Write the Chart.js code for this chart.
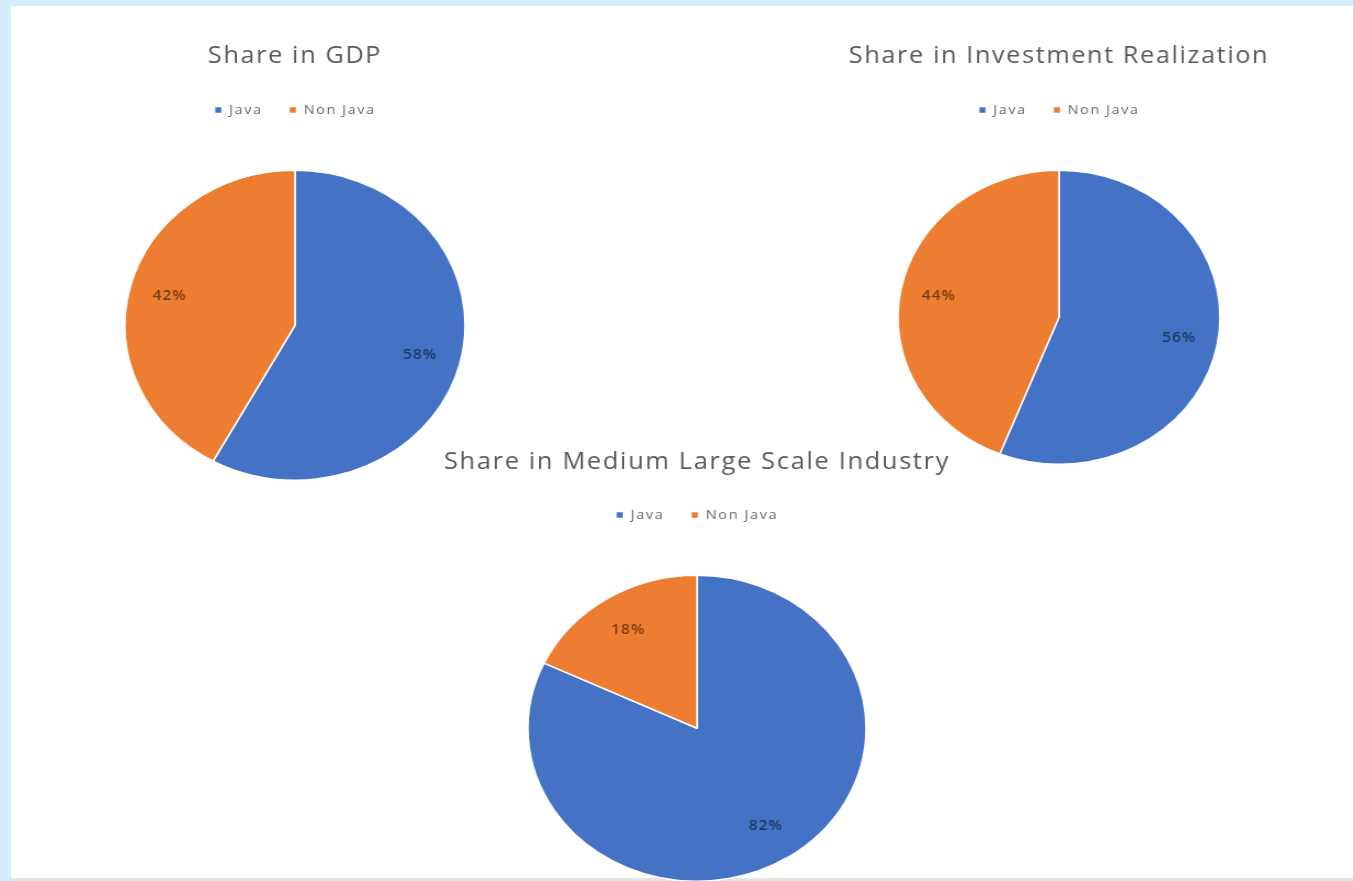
<!DOCTYPE html>
<html>
<head>
<meta charset="utf-8">
<script src="https://cdn.jsdelivr.net/npm/chart.js@4.4.1/dist/chart.umd.min.js"></script>
<style>
    html, body {
        margin: 0;
        padding: 0;
        width: 1353px;
        height: 881px;
        overflow: hidden;
        background: #d5ecfb;
    }
    #panel {
        position: absolute;
        left: 11px;
        top: 6px;
        width: 1342px;
        height: 872px;
        background: #ffffff;
        border-bottom: 3px solid #e4e4e4;
    }
    .pie-box {
        position: absolute;
    }
</style>
</head>
<body>
<div id="panel"></div>
<div class="pie-box" id="box-gdp"><canvas id="gdp"></canvas></div>
<div class="pie-box" id="box-invest"><canvas id="invest"></canvas></div>
<div class="pie-box" id="box-industry"><canvas id="industry"></canvas></div>

<script>
const categories = ['Java', 'Non Java'];
const gdpShare = [58, 42];
const investmentShare = [56, 44];
const industryShare = [82, 18];

const sliceColors = ['#4472C4', '#ED7D31'];
const labelColors = ['#1f3864', '#7a3c10'];

function setStyleOnElement(element, styles) {
    Object.assign(element.style, styles)
}

// canvas letter spacing, the reference text is spaced out
const spacingPlugin = {
    id: 'spacing',
    beforeUpdate(chart) { chart.ctx.letterSpacing = '1.5px'; },
    beforeLayout(chart) { chart.ctx.letterSpacing = '1.5px'; },
    beforeDraw(chart) { chart.ctx.letterSpacing = '1.5px'; }
};

// percent labels inside the slices
const percentLabels = {
    id: 'percentLabels',
    afterDatasetsDraw(chart) {
        const {ctx} = chart;
        const meta = chart.getDatasetMeta(0);
        const values = chart.data.datasets[0].data;
        const total = values.reduce((a, b) => a + b, 0);
        ctx.save();
        ctx.letterSpacing = '1px';
        ctx.font = '600 14px "Open Sans"';
        ctx.textAlign = 'center';
        ctx.textBaseline = 'middle';
        meta.data.forEach((arc, i) => {
            const {x, y, startAngle, endAngle, outerRadius} = arc.getProps(['x', 'y', 'startAngle', 'endAngle', 'outerRadius'], true);
            const mid = (startAngle + endAngle) / 2;
            const r = outerRadius * 0.76;
            ctx.fillStyle = labelColors[i];
            ctx.fillText(Math.round(values[i] / total * 100) + '%', x + Math.cos(mid) * r, y + Math.sin(mid) * r);
        });
        ctx.restore();
    }
};

function makePie(id, title, values, radius, titlePadBottom) {
    return new Chart(document.getElementById(id), {
        type: 'pie',
        data: {
            labels: categories,
            datasets: [{
                data: values,
                backgroundColor: sliceColors,
                borderColor: '#ffffff',
                borderWidth: 1.5,
                radius: radius
            }]
        },
        options: {
            responsive: true,
            maintainAspectRatio: false,
            animation: false,
            layout: { padding: 0 },
            plugins: {
                title: {
                    display: true,
                    text: title,
                    color: '#595959',
                    font: { family: '"Open Sans"', size: 23, weight: 'normal' },
                    padding: { top: 0, bottom: titlePadBottom }
                },
                legend: {
                    position: 'top',
                    labels: {
                        color: '#666666',
                        boxWidth: 7,
                        boxHeight: 7,
                        padding: 24,
                        font: { family: '"Open Sans"', size: 13 }
                    }
                },
                tooltip: { enabled: false }
            }
        },
        plugins: [spacingPlugin, percentLabels]
    });
}

// box geometry: left/top/size in unscaled px, stretched sideways like the reference
setStyleOnElement(document.getElementById('box-gdp'), {
    left: '45px', top: '43px', width: '500px', height: '481px',
    transform: 'scaleX(1.097)', transformOrigin: '50% 50%'
});
setStyleOnElement(document.getElementById('box-invest'), {
    left: '809px', top: '43px', width: '500px', height: '465px',
    transform: 'scaleX(1.095)', transformOrigin: '50% 50%'
});
setStyleOnElement(document.getElementById('box-industry'), {
    left: '447px', top: '449px', width: '500px', height: '476px',
    transform: 'scaleX(1.105)', transformOrigin: '50% 50%'
});

makePie('gdp', 'Share in GDP', gdpShare, 155, 9);
makePie('invest', 'Share in Investment Realization', investmentShare, 147, 9);
makePie('industry', 'Share in Medium Large Scale Industry', industryShare, 153, 8);
</script>
</body>
</html>
